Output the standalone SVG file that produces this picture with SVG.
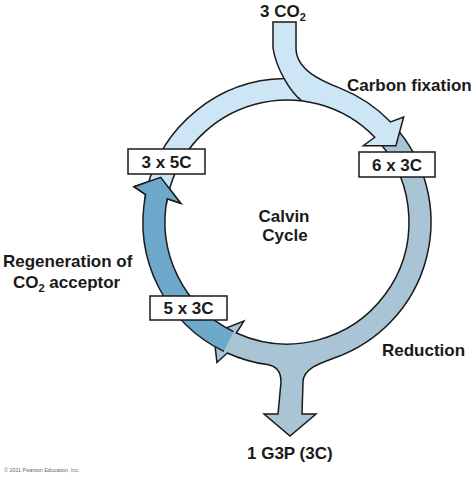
<svg xmlns="http://www.w3.org/2000/svg" width="474" height="477" viewBox="0 0 474 477">
<style>
.seg{stroke:#1a1a1a;stroke-width:1.5;stroke-linejoin:miter}
.light{fill:#cce6f6}
.grey{fill:#a9c4d4}
.dark{fill:#6ea8cb}
.box rect{fill:#ffffff;stroke:#1a1a1a;stroke-width:1.5}
text{font-family:"Liberation Sans",Arial,sans-serif;font-weight:bold;font-size:17px;fill:#1a1a1a}
.c{text-anchor:middle}
</style>
<rect width="474" height="477" fill="#ffffff"/>
<g id="connectors">
  <!-- Reduction segment (grey) with G3P output branch -->
  <path id="reduction-arrow" class="seg grey" d="M394.85,126.58 A144,144 0 0 1 336.25,357.32 C322.2,362.5 303,368 303,382 L302,414 L316,414 L290,436 L264,414 L278,414 L281,382 C281,372 277,366 266.96,364.6 A144,144 0 0 1 227.28,353.03 L216.95,362.5 L213.59,332.91 L243.93,321.04 L236.41,333.02 A122,122 0 0 0 378.37,141.16"/>
  <!-- Regeneration segment (dark) -->
  <path id="regeneration-arrow" class="seg dark" d="M223.87,351.43 A144,144 0 0 1 145.65,194.52 L134,186.7 L160.7,177.3 L180.64,203.25 L167.24,198.72 A122,122 0 0 0 233.52,331.65"/>
  <!-- Carbon fixation segment (light) with CO2 input -->
  <path id="fixation-arrow" class="seg light" d="M168.13,194.56 L146.69,189.61 A144,144 0 0 1 284.1,78.6 C278.75,69 274.5,58 273,48 L273,22 L296,22 L296,48 C296,70 321.4,80.7 340,88.1 A144,144 0 0 1 390.59,121.97 L403.67,116.95 L395.9,145.7 L363.37,145.63 L374.76,137.25 A122,122 0 0 0 168.13,194.56"/>
  <path class="seg" fill="none" d="M284.1,78.6 C289.5,88.25 296,96.5 302,101"/>
  <!-- regeneration arrowhead overlay -->
  <path class="seg dark" d="M144.4,201.96 A144,144 0 0 1 145.65,194.52 L134,186.7 L160.7,177.3 L180.64,203.25 L167.24,198.72 A122,122 0 0 0 166.19,205.02"/>
</g>
<g id="node-3x5C" class="box">
  <rect x="128" y="149" width="77" height="25"/>
  <text class="c" x="166.5" y="168">3 x 5C</text>
</g>
<g id="node-6x3C" class="box">
  <rect x="359" y="152" width="76" height="25"/>
  <text class="c" x="397" y="171">6 x 3C</text>
</g>
<g id="node-5x3C" class="box">
  <rect x="150" y="296" width="77" height="24"/>
  <text class="c" x="188.5" y="313.5">5 x 3C</text>
</g>
<g id="node-co2">
  <text x="260" y="17">3 CO<tspan font-size="11" dy="4">2</tspan></text>
</g>
<g id="node-g3p">
  <text x="247" y="459">1 G3P (3C)</text>
</g>
<g id="label-fixation"><text x="347" y="91">Carbon fixation</text></g>
<g id="label-reduction"><text x="382" y="356">Reduction</text></g>
<g id="label-regeneration">
  <text x="3" y="267">Regeneration of</text>
  <text x="13" y="288">CO<tspan font-size="11" dy="4">2</tspan><tspan dy="-4"> acceptor</tspan></text>
</g>
<g id="label-calvin">
  <text class="c" x="284" y="222">Calvin</text>
  <text class="c" x="285" y="241">Cycle</text>
</g>
<text x="4" y="471.5" style="font-weight:normal;font-size:5.4px;fill:#666666">© 2011 Pearson Education, Inc.</text>
</svg>
